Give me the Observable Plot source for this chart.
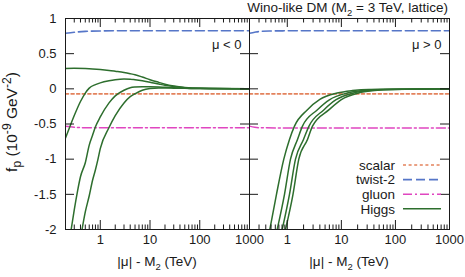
<!DOCTYPE html>
<html><head><meta charset="utf-8">
<script src="https://cdn.jsdelivr.net/npm/d3@7"></script>
<script src="https://cdn.jsdelivr.net/npm/@observablehq/plot@0.6"></script>
<style>
body{margin:0;background:#fff;}
#wrap{position:relative;width:465px;height:277px;font-family:"Liberation Sans",Arial,Helvetica,sans-serif;color:#1a1a1a;overflow:hidden;}
#wrap svg{position:absolute;top:0;}
.lbl{position:absolute;font-size:13.5px;white-space:nowrap;line-height:1;}
.lbl sub,.lbl sup{font-size:70%;line-height:0;}
.ylab{font-size:15.5px;}
.ylab sub,.ylab sup{font-size:78%;}
</style></head><body><div id="wrap"></div>
<script>
// ---------- data ----------
const majorX = [1, 10, 100, 1000];
const yTicks = [-2, -1.5, -1, -0.5, 0, 0.5, 1];
const legendLabels = ["scalar", "twist-2", "gluon", "Higgs"];
const sideLabels = ["μ < 0", "μ > 0"];

// left panel (mu < 0)
const scalarLX = [0.2, 1000], scalarLY = [-0.072, -0.072];
const twistLX = [0.2, 0.3, 0.5, 1, 3, 1000], twistLY = [0.79, 0.805, 0.817, 0.823, 0.826, 0.826];
const gluonLX = [0.2, 0.3, 0.5, 1000], gluonLY = [-0.532, -0.546, -0.552, -0.553];
const higgsL1X = [0.2, 0.3, 0.5, 0.7, 1, 1.5, 2, 3, 4, 5, 7, 10, 15, 20, 30, 50, 100, 1000];
const higgsL1Y = [0.29, 0.292, 0.288, 0.283, 0.275, 0.262, 0.25, 0.232, 0.215, 0.2, 0.168, 0.13, 0.092, 0.066, 0.04, 0.019, 0.007, 0];
const higgsL2X = [0.2, 0.25, 0.3, 0.4, 0.5, 0.6, 0.8, 1, 1.5, 2, 3, 4, 5, 7, 10, 15, 20, 30, 50, 100, 1000];
const higgsL2Y = [-0.70, -0.52, -0.38, -0.18, -0.06, 0.01, 0.06, 0.085, 0.115, 0.13, 0.14, 0.138, 0.13, 0.115, 0.095, 0.068, 0.05, 0.032, 0.017, 0.007, 0];
const higgsL3X = [0.26, 0.3, 0.35, 0.4, 0.5, 0.6, 0.7, 0.8, 1, 1.5, 2, 3, 4, 5, 7, 10, 15, 20, 30, 50, 100, 1000];
const higgsL3Y = [-2, -1.72, -1.45, -1.25, -1.05, -0.8, -0.66, -0.54, -0.4, -0.2, -0.1, -0.02, 0.015, 0.025, 0.03, 0.03, 0.027, 0.022, 0.016, 0.01, 0.004, 0];
const higgsL4X = [0.43, 0.5, 0.6, 0.7, 0.8, 0.9, 1, 1.5, 2, 3, 4, 5, 7, 10, 15, 20, 30, 50, 100, 1000];
const higgsL4Y = [-2, -1.75, -1.52, -1.3, -1.15, -1.0, -0.85, -0.55, -0.38, -0.2, -0.11, -0.07, -0.02, 0.004, 0.012, 0.012, 0.01, 0.007, 0.003, 0];

// right panel (mu > 0)
const scalarRX = [0.2, 1000], scalarRY = [-0.072, -0.072];
const twistRX = [0.2, 0.25, 0.3, 0.5, 1, 1000], twistRY = [0.79, 0.805, 0.815, 0.822, 0.825, 0.826];
const gluonRX = [0.2, 0.25, 0.35, 1000], gluonRY = [-0.53, -0.545, -0.555, -0.557];
const higgsR1X = [0.475, 0.631, 0.862, 1.098, 1.359, 2.334, 4, 8.37, 16, 32, 1000];
const higgsR1Y = [-2, -1.5, -1.0, -0.72, -0.53, -0.3, -0.15, -0.06, -0.025, -0.008, 0];
const higgsR2X = [0.65, 0.888, 1.146, 1.544, 1.91, 3.57, 6, 12.8, 25, 50, 1000];
const higgsR2Y = [-2, -1.5, -1.0, -0.72, -0.53, -0.3, -0.156, -0.06, -0.025, -0.008, 0];
const higgsR3X = [0.805, 1.098, 1.418, 1.993, 2.52, 4.73, 8, 16.8, 33, 66, 1000];
const higgsR3Y = [-2, -1.5, -1.0, -0.72, -0.53, -0.3, -0.155, -0.06, -0.025, -0.008, 0];
const higgsR4X = [0.926, 1.275, 1.632, 2.364, 2.925, 5.86, 10, 20.7, 41, 82, 1000];
const higgsR4Y = [-2, -1.5, -1.0, -0.72, -0.53, -0.3, -0.153, -0.06, -0.025, -0.008, 0];

// ---------- styles ----------
const C = {scalar: "#e3825c", twist: "#5676c8", gluon: "#e046c0", higgs: "#2d6e2d", axis: "#1a1a1a"};
const S = {
  scalar: {stroke: C.scalar, strokeWidth: 1.6, strokeDasharray: "3,2.6"},
  twist: {stroke: C.twist, strokeWidth: 1.6, strokeDasharray: "9,4"},
  gluon: {stroke: C.gluon, strokeWidth: 1.5, strokeDasharray: "9,3,2,3"},
  higgs: {stroke: C.higgs, strokeWidth: 1.5}
};
const zip = (xs, ys) => xs.map((x, i) => ({x, y: ys[i]}));

const minorX = [];
for (const dec of [0.1, 1, 10, 100]) for (let k = 2; k <= 9; k++) {
  const v = +(dec * k).toPrecision(3);
  if (v >= 0.2 && v <= 1000) minorX.push(v);
}

const H = 277, MT = 18, MB = 48, innerH = H - MT - MB;
const wrap = document.getElementById("wrap");

function panel({left, width, marginLeft, marginRight, lines, side, yLabels}) {
  const innerW = width - marginLeft - marginRight;
  const marks = [];
  for (const [data, st] of lines) marks.push(Plot.line(data, {x: "x", y: "y", curve: "monotone-x", clip: true, ...st}));
  marks.push(
    Plot.frame({stroke: C.axis, strokeWidth: 1}),
    Plot.tickX(majorX, {x: d => d, insetTop: innerH - 9, stroke: C.axis}),
    Plot.tickX(majorX, {x: d => d, insetBottom: innerH - 9, stroke: C.axis}),
    Plot.tickX(minorX, {x: d => d, insetTop: innerH - 4.5, stroke: C.axis}),
    Plot.tickX(minorX, {x: d => d, insetBottom: innerH - 4.5, stroke: C.axis}),
    Plot.tickY(yTicks, {y: d => d, insetRight: innerW - 9, stroke: C.axis}),
    Plot.tickY(yTicks, {y: d => d, insetLeft: innerW - 9, stroke: C.axis}),
    Plot.text(majorX, {x: d => d, text: d => String(d), frameAnchor: "bottom", dy: 14, fontSize: 13, fill: C.axis}),
    Plot.text([side], {text: d => d, frameAnchor: "top-right", dx: -8, dy: 21, textAnchor: "end", fontSize: 13, fill: C.axis})
  );
  if (yLabels) marks.push(Plot.text(yTicks, {y: d => d, text: d => String(d), frameAnchor: "left", dx: -9, textAnchor: "end", fontSize: 13, fill: C.axis}));
  const svg = Plot.plot({
    width, height: H, marginLeft, marginRight, marginTop: MT, marginBottom: MB,
    x: {type: "log", domain: [0.2, 1000], axis: null},
    y: {domain: [-2, 1], axis: null},
    style: {background: "transparent", overflow: "visible", fontFamily: "'Liberation Sans', Arial, Helvetica, sans-serif"},
    marks
  });
  svg.style.left = left + "px";
  wrap.appendChild(svg);
}

panel({left: 0, width: 252, marginLeft: 65, marginRight: 3, side: sideLabels[0], yLabels: true,
  lines: [[zip(scalarLX, scalarLY), S.scalar], [zip(twistLX, twistLY), S.twist], [zip(gluonLX, gluonLY), S.gluon],
    [zip(higgsL1X, higgsL1Y), S.higgs], [zip(higgsL2X, higgsL2Y), S.higgs], [zip(higgsL3X, higgsL3Y), S.higgs], [zip(higgsL4X, higgsL4Y), S.higgs]]});
panel({left: 200, width: 265, marginLeft: 49, marginRight: 16, side: sideLabels[1], yLabels: false,
  lines: [[zip(scalarRX, scalarRY), S.scalar], [zip(twistRX, twistRY), S.twist], [zip(gluonRX, gluonRY), S.gluon],
    [zip(higgsR1X, higgsR1Y), S.higgs], [zip(higgsR2X, higgsR2Y), S.higgs], [zip(higgsR3X, higgsR3Y), S.higgs], [zip(higgsR4X, higgsR4Y), S.higgs]]});

// legend
const leg = d3.select(wrap).append("svg").attr("width", 465).attr("height", 277).style("left", "0px")
  .style("font-family", "'Liberation Sans', Arial, Helvetica, sans-serif");
const legStyles = [S.scalar, S.twist, S.gluon, S.higgs];
legendLabels.forEach((name, i) => {
  const y = 165 + i * 14.6;
  leg.append("text").attr("x", 395).attr("y", y).attr("dy", "0.35em").attr("text-anchor", "end")
    .attr("font-size", 13.5).attr("fill", C.axis).text(name);
  const st = legStyles[i];
  leg.append("line").attr("x1", 403).attr("x2", 441).attr("y1", y).attr("y2", y)
    .attr("stroke", st.stroke).attr("stroke-width", st.strokeWidth).attr("stroke-dasharray", st.strokeDasharray || null);
});

// html labels
function label(html, css, cls) { const d = document.createElement("div"); d.className = "lbl" + (cls ? " " + cls : ""); d.innerHTML = html; Object.assign(d.style, css); wrap.appendChild(d); return d; }
label("Wino-like DM (M<sub>2</sub> = 3 TeV, lattice)", {right: "17px", top: "1px"});
const xl = "|μ| - M<sub>2</sub> (TeV)";
label(xl, {left: "157px", top: "255px", transform: "translateX(-50%)"});
label(xl, {left: "349px", top: "255px", transform: "translateX(-50%)"});
label("f<sub>p</sub> (10<sup>-9</sup> GeV<sup>-2</sup>)", {left: "12px", top: "122px", transform: "translate(-50%,-50%) rotate(-90deg)"}, "ylab");
</script></body></html>
